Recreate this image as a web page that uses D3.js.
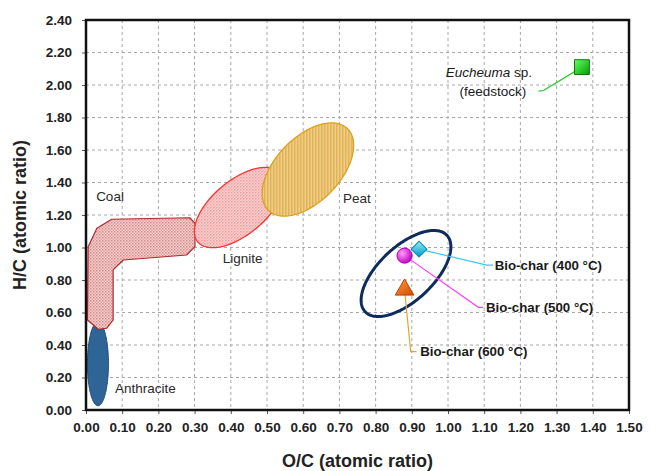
<!DOCTYPE html>
<html><head><meta charset="utf-8">
<script src="https://cdn.jsdelivr.net/npm/d3@7"></script>
<style>body{margin:0;background:#fff}text{font-family:"Liberation Sans",Arial,sans-serif}</style>
</head><body><svg id="c" width="651" height="471"></svg>
<script>
// ---- data ----
const xTicks = [0,0.1,0.2,0.3,0.4,0.5,0.6,0.7,0.8,0.9,1.0,1.1,1.2,1.3,1.4,1.5];
const yTicks = [0,0.2,0.4,0.6,0.8,1.0,1.2,1.4,1.6,1.8,2.0,2.2,2.4];
const xTitle = "O/C (atomic ratio)";
const yTitle = "H/C (atomic ratio)";

const sampleNames = ["Bio-char (400 °C)","Bio-char (500 °C)","Bio-char (600 °C)","Eucheuma sp. (feedstock)"];
const sampleOC = [0.92, 0.88, 0.88, 1.37];
const sampleHC = [0.99, 0.95, 0.74, 2.11];
const sampleShape = ["diamond","circle","triangle","square"];

// coal region outline (O/C, H/C)
const coalOC = [0.004,0.006,0.030,0.071,0.287,0.301,0.301,0.278,0.103,0.075,0.075,0.057,0.034];
const coalHC = [0.554,1.005,1.118,1.174,1.183,1.149,1.005,0.954,0.923,0.862,0.554,0.503,0.497];

// elliptical regions: centre and two conjugate half-axes (data units)
const regionNames = ["Anthracite","Lignite","Peat","Bio-char"];
const regionCenterOC = [0.033, 0.423, 0.613, 0.884];
const regionCenterHC = [0.284, 1.246, 1.480, 0.840];
const regionMajorOC  = [0.000, 0.114, 0.109, 0.113];
const regionMajorHC  = [0.258, 0.212, 0.252, 0.235];
const regionMinorOC  = [0.029, 0.048, 0.064, 0.051];
const regionMinorHC  = [0.000,-0.127,-0.137,-0.122];

// text labels of regions (left start, middle)
const regionLabels = ["Coal","Anthracite","Lignite","Peat"];
const regionLabelOC = [0.028, 0.080, 0.378, 0.710];
const regionLabelHC = [1.317, 0.135, 0.935, 1.305];

// leader lines: elbow and end points, label anchor
const leaderElbowOC = [1.107, 1.084, 0.897, 1.264];
const leaderElbowHC = [0.892, 0.632, 0.359, 1.966];
const leaderEndOC   = [1.124, 1.097, 0.913, 1.250];
const leaderEndHC   = [0.892, 0.632, 0.359, 1.962];
const labelOC = [1.129, 1.105, 0.923, 1.113];
const labelHC = [0.892, 0.632, 0.359, 2.080];

// ---- drawing ----
const M = {left:86, right:629, top:20, bottom:410};
const svg = d3.select("#c");
const x = d3.scaleLinear().domain([0,1.5]).range([M.left, M.right]);
const y = d3.scaleLinear().domain([0,2.4]).range([M.bottom, M.top]);

const defs = svg.append("defs");
const pc = defs.append("pattern").attr("id","coalPat").attr("width",3).attr("height",3).attr("patternUnits","userSpaceOnUse");
pc.append("rect").attr("width",3).attr("height",3).attr("fill","#f5cfcf");
pc.append("rect").attr("width",1.5).attr("height",1.5).attr("fill","#d98a8a");
pc.append("rect").attr("x",1.5).attr("y",1.5).attr("width",1.5).attr("height",1.5).attr("fill","#e3a3a3");
const pl = defs.append("pattern").attr("id","ligPat").attr("width",3).attr("height",3).attr("patternUnits","userSpaceOnUse");
pl.append("rect").attr("width",3).attr("height",3).attr("fill","#fbd3d3");
pl.append("rect").attr("width",1.5).attr("height",1.5).attr("fill","#f39a9a");
pl.append("rect").attr("x",1.5).attr("y",1.5).attr("width",1.5).attr("height",1.5).attr("fill","#f6b2b2");
const pp = defs.append("pattern").attr("id","peatPat").attr("width",3).attr("height",4).attr("patternUnits","userSpaceOnUse");
pp.append("rect").attr("width",3).attr("height",4).attr("fill","#efcd85");
pp.append("rect").attr("width",1.5).attr("height",4).attr("fill","#e2b45a");

function grad(id, c1, c2){
  const g = defs.append("linearGradient").attr("id",id).attr("x1","0").attr("y1","0").attr("x2","1").attr("y2","1");
  g.append("stop").attr("offset","0").attr("stop-color",c1);
  g.append("stop").attr("offset","1").attr("stop-color",c2);
}
grad("gDia","#8ff0ff","#0096c8");
grad("gTri","#ffa040","#d04800");
grad("gSq","#66ff66","#00a000");
const rg = defs.append("radialGradient").attr("id","gCir").attr("cx","0.35").attr("cy","0.35").attr("r","0.7");
rg.append("stop").attr("offset","0").attr("stop-color","#ff9cff");
rg.append("stop").attr("offset","1").attr("stop-color","#c000c0");

// grid
const grid = svg.append("g");
grid.selectAll("line.vx").data(xTicks.slice(1,-1)).join("line")
  .attr("x1",d=>x(d)).attr("x2",d=>x(d)).attr("y1",M.top).attr("y2",M.bottom)
  .attr("stroke","#a8a8a8").attr("stroke-dasharray","3,3").attr("stroke-width",1);
grid.selectAll("line.hy").data(yTicks.slice(1,-1)).join("line")
  .attr("x1",M.left).attr("x2",M.right).attr("y1",d=>y(d)).attr("y2",d=>y(d))
  .attr("stroke","#a8a8a8").attr("stroke-dasharray","3,3").attr("stroke-width",1);

// axes
const fmt = d3.format(".2f");
const gx = svg.append("g").attr("transform",`translate(0,${M.bottom})`)
  .call(d3.axisBottom(x).tickValues(xTicks).tickFormat(fmt).tickSize(4).tickSizeOuter(0).tickPadding(8));
const gy = svg.append("g").attr("transform",`translate(${M.left},0)`)
  .call(d3.axisLeft(y).tickValues(yTicks).tickFormat(fmt).tickSize(4).tickSizeOuter(0).tickPadding(10));
[gx,gy].forEach(g=>{
  g.select(".domain").remove();
  g.selectAll(".tick line").attr("stroke","#555");
  g.selectAll(".tick text").attr("font-size","13.5px").attr("font-weight","bold").attr("fill","#222")
    .style("font-family","'Liberation Sans',Arial,sans-serif");
});

// regions
const line = d3.line().x(d=>x(d[0])).y(d=>y(d[1]));
function ellipsePts(i){
  const pts=[];
  for(let k=0;k<160;k++){const t=k/160*2*Math.PI;
    pts.push([regionCenterOC[i]+regionMajorOC[i]*Math.cos(t)+regionMinorOC[i]*Math.sin(t),
              regionCenterHC[i]+regionMajorHC[i]*Math.cos(t)+regionMinorHC[i]*Math.sin(t)]);}
  return pts;
}
const closed = d3.line().x(d=>x(d[0])).y(d=>y(d[1])).curve(d3.curveLinearClosed);
svg.append("path").attr("d",closed(ellipsePts(0))).attr("fill","#2f6497").attr("stroke","#1b4a7a").attr("stroke-width",1);
svg.append("path").attr("d",closed(coalOC.map((v,i)=>[v,coalHC[i]])))
  .attr("fill","url(#coalPat)").attr("stroke","#b0282a").attr("stroke-width",1.2).attr("stroke-linejoin","round");
svg.append("path").attr("d",closed(ellipsePts(1))).attr("fill","url(#ligPat)").attr("stroke","#ff3030").attr("stroke-width",1.3);
svg.append("path").attr("d",closed(ellipsePts(2))).attr("fill","url(#peatPat)").attr("stroke","#d9a21e").attr("stroke-width",1.3);
svg.append("path").attr("d",closed(ellipsePts(3))).attr("fill","none").attr("stroke","#0b2c5c").attr("stroke-width",3);

// region labels
svg.selectAll("text.rl").data(regionLabels).join("text")
  .attr("x",(d,i)=>x(regionLabelOC[i])).attr("y",(d,i)=>y(regionLabelHC[i]))
  .attr("dy","0.35em").attr("font-size","13.5px").attr("fill","#2a2a2a").text(d=>d);

// leaders
const leaderColors = ["#38c8f0","#ff40ff","#e8a52a","#22cc22"];
sampleNames.forEach((n,i)=>{
  svg.append("path").attr("d",line([[sampleOC[i],sampleHC[i]],[leaderElbowOC[i],leaderElbowHC[i]],[leaderEndOC[i],leaderEndHC[i]]]))
    .attr("fill","none").attr("stroke",leaderColors[i]).attr("stroke-width",1.2);
});

// markers
const sym = {diamond:d3.symbolSquare, circle:d3.symbolCircle, triangle:d3.symbolTriangle, square:d3.symbolSquare};
const symSize = {diamond:125, circle:180, triangle:150, square:220};
const symRot = {diamond:45, circle:0, triangle:0, square:0};
const symFill = {diamond:"url(#gDia)", circle:"url(#gCir)", triangle:"url(#gTri)", square:"url(#gSq)"};
const symStroke = {diamond:"#0a8ab0", circle:"#b000b0", triangle:"#c04000", square:"#0a7a0a"};
sampleNames.forEach((n,i)=>{
  const s = sampleShape[i];
  svg.append("path").attr("d",d3.symbol(sym[s],symSize[s])())
    .attr("transform",`translate(${x(sampleOC[i])},${y(sampleHC[i])}) rotate(${symRot[s]})`)
    .attr("fill",symFill[s]).attr("stroke",symStroke[s]).attr("stroke-width",1);
});

// sample labels
for(let i=0;i<3;i++){
  svg.append("text").attr("x",x(labelOC[i])).attr("y",y(labelHC[i])).attr("dy","0.35em")
    .attr("font-size","13.3px").attr("font-weight","bold").attr("fill","#1a1a1a").text(sampleNames[i]);
}
const t1 = svg.append("text").attr("x",x(labelOC[3])).attr("y",y(labelHC[3])).attr("dy","0.35em")
  .attr("text-anchor","middle").attr("font-size","13.5px").attr("fill","#1a1a1a");
t1.append("tspan").attr("font-style","italic").text("Eucheuma");
t1.append("tspan").text(" sp.");
svg.append("text").attr("x",x(1.124)).attr("y",y(1.962)).attr("dy","0.35em")
  .attr("text-anchor","middle").attr("font-size","13.5px").attr("fill","#1a1a1a").text("(feedstock)");

// frame
svg.append("rect").attr("x",M.left).attr("y",M.top).attr("width",M.right-M.left).attr("height",M.bottom-M.top)
  .attr("fill","none").attr("stroke","#111").attr("stroke-width",2.5);

// axis titles
svg.append("text").attr("x",(M.left+M.right)/2).attr("y",461).attr("dy","0.35em").attr("text-anchor","middle")
  .attr("font-size","18px").attr("font-weight","bold").attr("fill","#222").text(xTitle);
svg.append("text").attr("transform",`translate(20,${(M.top+M.bottom)/2}) rotate(-90)`).attr("dy","0.35em").attr("text-anchor","middle")
  .attr("font-size","18px").attr("font-weight","bold").attr("fill","#222").text(yTitle);
</script></body></html>
